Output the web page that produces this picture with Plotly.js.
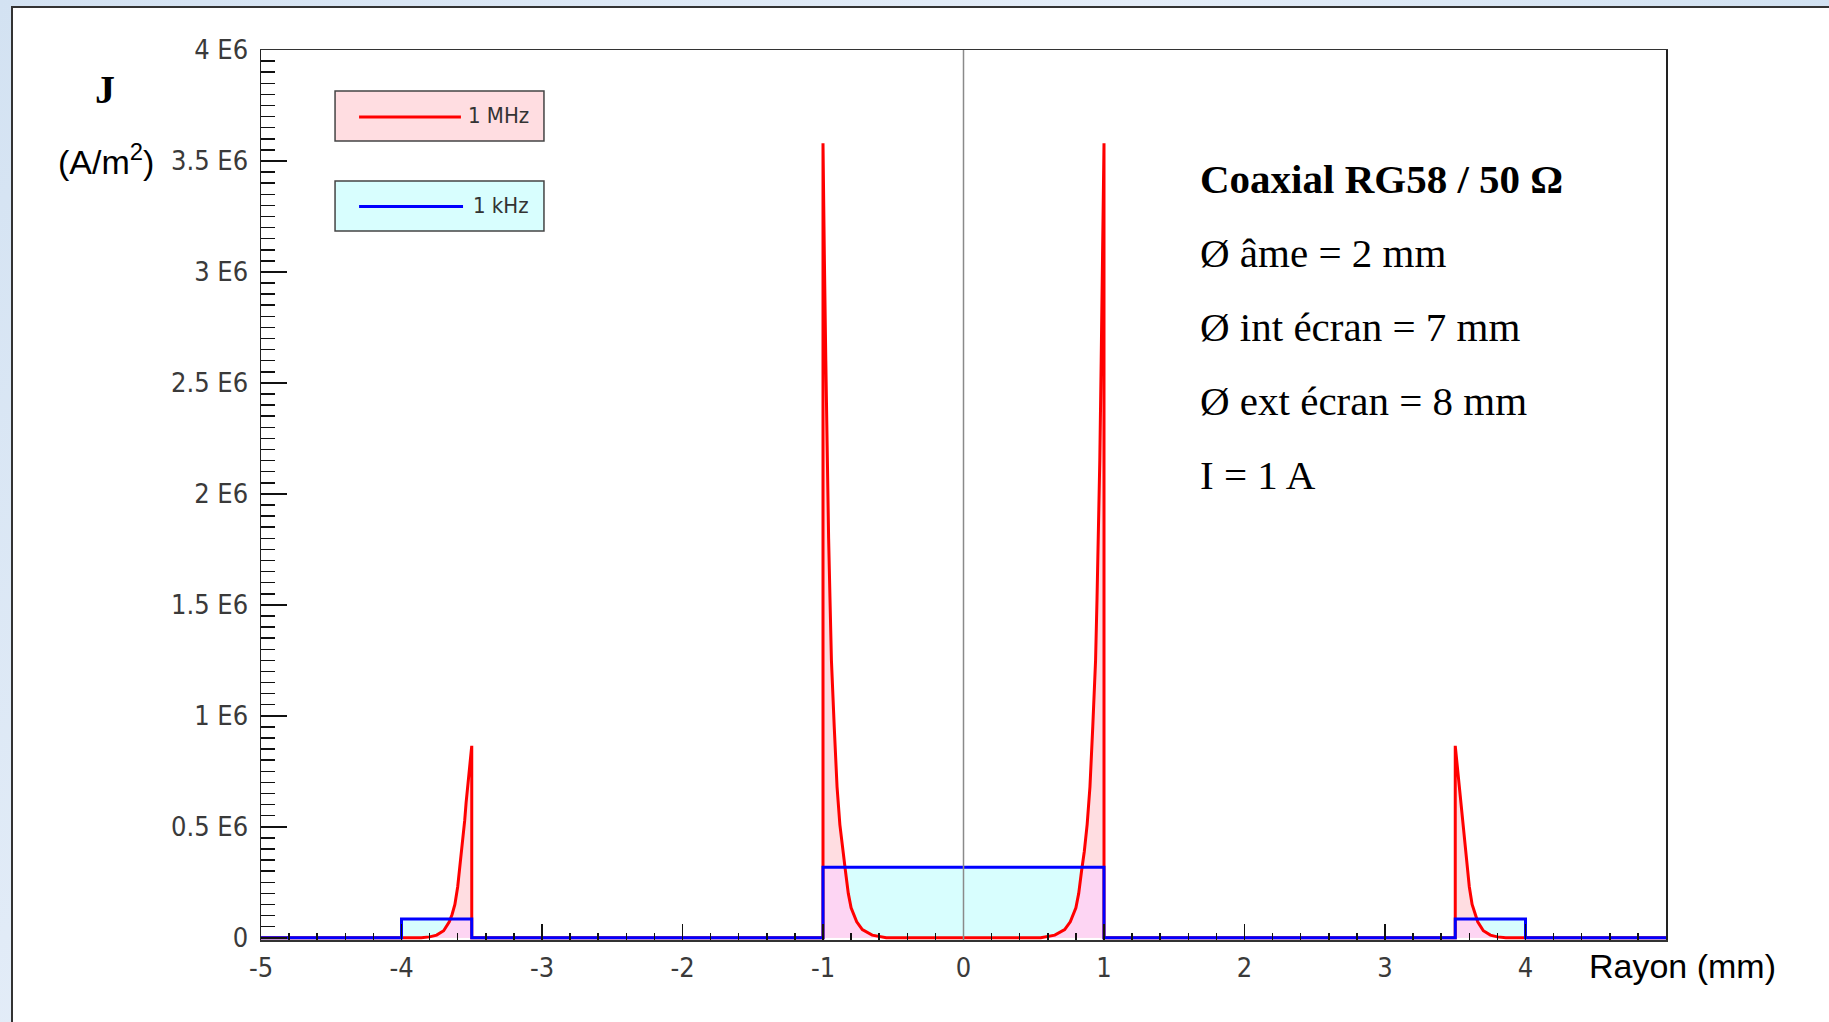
<!DOCTYPE html>
<html>
<head>
<meta charset="utf-8">
<script src="https://cdn.plot.ly/plotly-3.0.1.min.js"></script>
<style>
  html, body { margin: 0; padding: 0; width: 1829px; height: 1022px; overflow: hidden;
    background: linear-gradient(135deg, #d3e2f2 0%, #e4edf8 40%, #cddff0 70%, #e2ecf7 100%); }
  #frame { position: absolute; left: 11px; top: 6px; width: 1818px; height: 1016px;
    border-left: 2px solid #333; border-top: 2px solid #333; background: #fff; }
  #chart { width: 1816px; height: 1014px; }
</style>
</head>
<body>
<div id="frame"><div id="chart"></div></div>
<script>
// ---- Data (r in mm, J in A/m²) ----
const seriesNames = ['1 MHz', '1 kHz'];

// 1 MHz (skin effect)
const redX = [-5, -3.86, -3.80, -3.75, -3.70, -3.66, -3.64, -3.62, -3.60, -3.58, -3.56, -3.55, -3.54, -3.53, -3.52, -3.51, -3.5, -3.5,
  -1, -1, -0.995, -0.99, -0.98, -0.97, -0.96, -0.95, -0.94, -0.92, -0.90, -0.88, -0.86, -0.84, -0.82, -0.80, -0.76, -0.72, -0.65, -0.55,
  0.55, 0.65, 0.72, 0.76, 0.80, 0.82, 0.84, 0.86, 0.88, 0.90, 0.92, 0.94, 0.95, 0.96, 0.97, 0.98, 0.99, 0.995, 1, 1,
  3.5, 3.5, 3.51, 3.52, 3.53, 3.54, 3.55, 3.56, 3.58, 3.60, 3.62, 3.64, 3.66, 3.70, 3.75, 3.80, 3.86, 5];
const redJ = [0, 0, 0.004e6, 0.012e6, 0.032e6, 0.072e6, 0.105e6, 0.15e6, 0.23e6, 0.34e6, 0.46e6, 0.53e6, 0.61e6, 0.67e6, 0.74e6, 0.80e6, 0.865e6, 0,
  0, 3.58e6, 3.40e6, 3.05e6, 2.60e6, 2.15e6, 1.80e6, 1.52e6, 1.25e6, 0.95e6, 0.68e6, 0.51e6, 0.39e6, 0.30e6, 0.20e6, 0.135e6, 0.072e6, 0.037e6, 0.012e6, 0,
  0, 0.012e6, 0.037e6, 0.072e6, 0.135e6, 0.20e6, 0.30e6, 0.39e6, 0.51e6, 0.68e6, 0.95e6, 1.25e6, 1.52e6, 1.80e6, 2.15e6, 2.60e6, 3.05e6, 3.40e6, 3.58e6, 0,
  0, 0.865e6, 0.80e6, 0.74e6, 0.67e6, 0.61e6, 0.53e6, 0.46e6, 0.34e6, 0.23e6, 0.15e6, 0.105e6, 0.072e6, 0.032e6, 0.012e6, 0.004e6, 0, 0];

// 1 kHz (nearly uniform)
const blueX = [-5, -4, -4, -3.5, -3.5, -1, -1, 1, 1, 3.5, 3.5, 4, 4, 5];
const blueJ = [0, 0, 0.085e6, 0.085e6, 0, 0, 0.318e6, 0.318e6, 0, 0, 0.085e6, 0.085e6, 0, 0];

// Axis ticks
const xTickVals = [-5, -4, -3, -2, -1, 0, 1, 2, 3, 4, 5];
const xTickText = ['-5', '-4', '-3', '-2', '-1', '0', '1', '2', '3', '4', ''];
const yTickVals = [0, 500000, 1000000, 1500000, 2000000, 2500000, 3000000, 3500000, 4000000];
const yTickText = ['0', '0.5 E6', '1 E6', '1.5 E6', '2 E6', '2.5 E6', '3 E6', '3.5 E6', '4 E6'];

// Text
const infoLines = ['<b>Coaxial RG58 / 50 Ω</b>', 'Ø âme = 2 mm', 'Ø int écran = 7 mm', 'Ø ext écran = 8 mm', 'I = 1 A'];
const yTitleMain = '<b>J</b>';
const yTitleUnit = '(A/m<sup>2</sup>)';
const xTitle = 'Rayon (mm)';

// ---- Overlap region (under both curves), derived from the arrays above ----
function overlapPoints() {
  const ox = [], oy = [];
  for (let i = 0; i < blueX.length - 1; i++) {
    const a = blueX[i], b = blueX[i + 1], L = blueJ[i];
    if (!(L > 0 && blueJ[i + 1] === L && b > a)) continue;
    const idx = [];
    for (let k = 0; k < redX.length; k++) if (redX[k] >= a && redX[k] <= b) idx.push(k);
    if (!idx.length) continue;
    if (redX[idx[0]] > a) { ox.push(a); oy.push(0); }
    ox.push(redX[idx[0]]); oy.push(Math.min(redJ[idx[0]], L));
    for (let m = 1; m < idx.length; m++) {
      const p = idx[m - 1], q = idx[m];
      const y1 = redJ[p], y2 = redJ[q];
      if ((y1 - L) * (y2 - L) < 0) {
        const t = (L - y1) / (y2 - y1);
        ox.push(redX[p] + t * (redX[q] - redX[p])); oy.push(L);
      }
      ox.push(redX[q]); oy.push(Math.min(y2, L));
    }
    if (redX[idx[idx.length - 1]] < b) { ox.push(b); oy.push(0); }
  }
  return { x: ox, y: oy };
}
const ov = overlapPoints();

// tick label aliases (Plotly's default label -> reference label)
function aliasMap(vals, texts) {
  const m = {};
  vals.forEach((v, i) => {
    const variants = [String(v), v.toLocaleString('en-US'), Math.abs(v).toLocaleString('en-US')];
    variants.forEach(s => {
      if (v < 0 && s.indexOf('-') < 0) s = '-' + s;
      m[s] = texts[i];
      m[s.replace('-', '\u2212')] = texts[i];
    });
  });
  return m;
}

const pinkFill = '#ffdde1';
const cyanFill = '#d8fefe';
const bothFill = '#fdd5f3';
const redCol = '#ff0000';
const blueCol = '#0000ff';

const traces = [
  { x: blueX, y: blueJ, type: 'scatter', mode: 'lines', fill: 'tozeroy', fillcolor: cyanFill, line: { width: 0, color: cyanFill }, showlegend: false, hoverinfo: 'skip' },
  { x: redX, y: redJ, type: 'scatter', mode: 'lines', fill: 'tozeroy', fillcolor: pinkFill, line: { width: 0, color: pinkFill }, showlegend: false, hoverinfo: 'skip' },
  { x: ov.x, y: ov.y, type: 'scatter', mode: 'lines', fill: 'tozeroy', fillcolor: bothFill, line: { width: 0, color: bothFill }, showlegend: false, hoverinfo: 'skip' },
  { x: redX, y: redJ, type: 'scatter', mode: 'lines', name: seriesNames[0], line: { width: 3, color: redCol }, showlegend: false },
  { x: blueX, y: blueJ, type: 'scatter', mode: 'lines', name: seriesNames[1], line: { width: 3, color: blueCol }, showlegend: false }
];

const tickFont = { family: 'Liberation Sans Narrow, DejaVu Sans Condensed, Arial Narrow, sans-serif', size: 27, color: '#3a3a3a' };

const annotations = [];
const infoY = [0.8556, 0.7719, 0.6892, 0.6056, 0.5228];
infoLines.forEach((t, i) => annotations.push({
  xref: 'paper', yref: 'paper', x: 0.6672, y: infoY[i], xanchor: 'left', yanchor: 'middle',
  text: t, showarrow: false, font: { family: 'Liberation Serif, Times New Roman, serif', size: 41, color: '#000' }
}));
annotations.push({ xref: 'paper', yref: 'paper', x: -0.111, y: 0.956, xanchor: 'center', yanchor: 'middle', text: yTitleMain, showarrow: false,
  font: { family: 'Liberation Serif, Times New Roman, serif', size: 40, color: '#000' } });
annotations.push({ xref: 'paper', yref: 'paper', x: -0.110, y: 0.877, xanchor: 'center', yanchor: 'middle', text: yTitleUnit, showarrow: false,
  font: { family: 'Liberation Sans, Arial, sans-serif', size: 34, color: '#000' } });
annotations.push({ xref: 'paper', yref: 'paper', x: 0.9435, y: -0.0292, xanchor: 'left', yanchor: 'middle', text: xTitle, showarrow: false,
  font: { family: 'Liberation Sans, Arial, sans-serif', size: 34, color: '#000' } });
// legend labels
annotations.push({ xref: 'paper', yref: 'paper', x: 0.1922, y: 0.9264, xanchor: 'right', yanchor: 'middle', text: seriesNames[0], showarrow: false,
  font: { family: tickFont.family, size: 22, color: '#333' } });
annotations.push({ xref: 'paper', yref: 'paper', x: 0.1922, y: 0.8258, xanchor: 'right', yanchor: 'middle', text: seriesNames[1], showarrow: false,
  font: { family: tickFont.family, size: 22, color: '#333' } });

const shapes = [
  // vertical reference line at r = 0
  { type: 'line', xref: 'x', yref: 'paper', x0: 0, x1: 0, y0: 0, y1: 1, line: { color: '#8a8a8a', width: 1.5 }, layer: 'above' },
  // legend boxes
  { type: 'rect', xref: 'paper', yref: 'paper', x0: 0.0527, x1: 0.2014, y0: 0.8978, y1: 0.9539, fillcolor: pinkFill, line: { color: '#444', width: 1.5 } },
  { type: 'rect', xref: 'paper', yref: 'paper', x0: 0.0527, x1: 0.2014, y0: 0.7966, y1: 0.8528, fillcolor: cyanFill, line: { color: '#444', width: 1.5 } },
  { type: 'line', xref: 'paper', yref: 'paper', x0: 0.0698, x1: 0.1423, y0: 0.9247, y1: 0.9247, line: { color: redCol, width: 3 } },
  { type: 'line', xref: 'paper', yref: 'paper', x0: 0.0698, x1: 0.1438, y0: 0.8242, y1: 0.8242, line: { color: blueCol, width: 3 } }
];

const layout = {
  width: 1816, height: 1014,
  margin: { l: 248, r: 163, t: 42, b: 82 },
  paper_bgcolor: '#ffffff', plot_bgcolor: '#ffffff',
  showlegend: false,
  xaxis: {
    range: [-5, 5], showgrid: false, zeroline: false,
    showline: true, mirror: true, linecolor: '#333', linewidth: 1.5,
    ticks: 'inside', ticklen: 16, tickwidth: 1.5, tickcolor: '#111',
    tickmode: 'linear', tick0: -5, dtick: 1,
    labelalias: aliasMap(xTickVals, xTickText),
    minor: { tickmode: 'linear', tick0: -5, dtick: 0.2, ticks: 'inside', ticklen: 7, tickwidth: 1.5, tickcolor: '#111', showgrid: false },
    tickfont: tickFont, ticklabelstandoff: 3
  },
  yaxis: {
    range: [-0.01e6, 4e6], showgrid: false, zeroline: false,
    showline: true, mirror: true, linecolor: '#222', linewidth: 1.5,
    ticks: 'inside', ticklen: 26, tickwidth: 1.5, tickcolor: '#111',
    tickmode: 'linear', tick0: 0, dtick: 500000,
    exponentformat: 'none',
    labelalias: aliasMap(yTickVals, yTickText),
    minor: { tickmode: 'linear', tick0: 0, dtick: 50000, ticks: 'inside', ticklen: 14, tickwidth: 1.5, tickcolor: '#111', showgrid: false },
    tickfont: tickFont, ticklabelstandoff: 6
  },
  annotations: annotations,
  shapes: shapes
};

Plotly.newPlot('chart', traces, layout, { displayModeBar: false, staticPlot: true });
</script>
</body>
</html>
